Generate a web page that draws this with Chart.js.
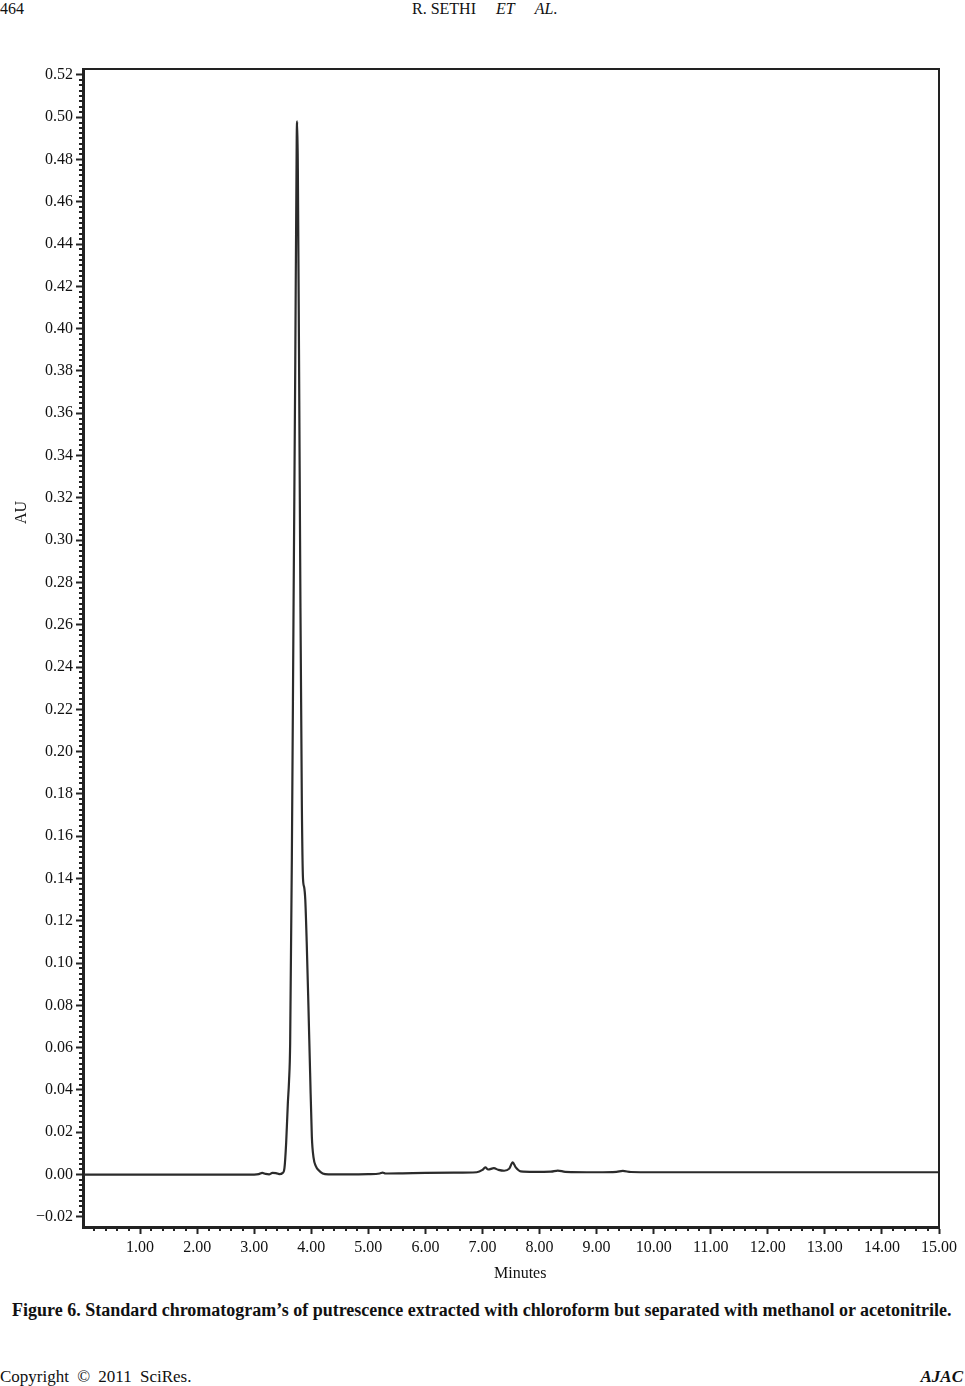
<!DOCTYPE html>
<html><head><meta charset="utf-8">
<script src="https://cdn.jsdelivr.net/npm/chart.js@4.4.1/dist/chart.umd.min.js"></script>
<style>
html,body{margin:0;padding:0;background:#fff;}
body{width:965px;height:1386px;position:relative;overflow:hidden;font-family:"Liberation Serif","Times New Roman",serif;color:#111;}
#wrap{position:absolute;left:0;top:52px;width:965px;height:1235px;}
.t{position:absolute;white-space:nowrap;}
</style></head><body>
<div class="t" style="left:0;top:0;font-size:16px;line-height:18px;">464</div>
<div class="t" style="left:412px;top:0;font-size:16px;line-height:18px;">R. SETHI&nbsp;&nbsp;&nbsp;&nbsp;&nbsp;<i>ET</i>&nbsp;&nbsp;&nbsp;&nbsp;&nbsp;<i>AL</i>.</div>
<div id="wrap"><canvas id="c"></canvas></div>
<div class="t" style="left:11px;top:500px;font-size:16px;line-height:19px;transform-origin:0 0;transform:translate(0,24px) rotate(-90deg);">AU</div>
<div class="t" style="left:494px;top:1264px;font-size:16px;line-height:18px;">Minutes</div>
<div class="t" style="left:12px;top:1300px;font-size:18px;line-height:20px;font-weight:bold;">Figure 6. Standard chromatogram’s of putrescence extracted with chloroform but separated with methanol or acetonitrile.</div>
<div class="t" style="left:0;top:1367px;font-size:17px;line-height:19px;word-spacing:4px;">Copyright © 2011 SciRes.</div>
<div class="t" style="right:2px;top:1367px;font-size:17px;line-height:19px;font-weight:bold;font-style:italic;">AJAC</div>
<script>
// Retention time (minutes)
const timeMin = [0, 0.5, 1.0, 1.5, 2.0, 2.5, 3.0, 3.08, 3.14, 3.2, 3.26, 3.32, 3.38, 3.44, 3.5, 3.53, 3.56, 3.59, 3.61, 3.63, 3.66, 3.69, 3.72, 3.745, 3.755, 3.765, 3.785, 3.81, 3.835, 3.855, 3.875, 3.895, 3.92, 3.95, 3.98, 4.01, 4.04, 4.08, 4.13, 4.2, 4.3, 4.6, 5.0, 5.2, 5.25, 5.3, 5.6, 6.0, 6.5, 6.9, 7.0, 7.05, 7.1, 7.2, 7.28, 7.38, 7.47, 7.53, 7.58, 7.67, 7.9, 8.2, 8.32, 8.45, 9.0, 9.35, 9.46, 9.6, 10, 12, 13, 15];
// Absorbance (AU)
const absorbanceAU = [0, 0, 0, 0, 0, 0, 0, 0.0002, 0.0008, 0.0003, 0.0001, 0.0008, 0.0007, 0.0002, 0.0008, 0.003, 0.015, 0.034, 0.044, 0.062, 0.15, 0.27, 0.385, 0.49, 0.498, 0.475, 0.39, 0.27, 0.175, 0.14, 0.136, 0.13, 0.11, 0.08, 0.048, 0.018, 0.008, 0.004, 0.002, 0.0005, 0.0001, 0.0001, 0.0002, 0.0005, 0.0009, 0.0005, 0.0006, 0.0008, 0.0009, 0.0011, 0.0022, 0.0034, 0.0024, 0.003, 0.0022, 0.0018, 0.0028, 0.0058, 0.0035, 0.0015, 0.0013, 0.0014, 0.0019, 0.0013, 0.0011, 0.0013, 0.0017, 0.0012, 0.0011, 0.0011, 0.0011, 0.0011];
// Axis settings
const xRange = [0, 15];
const yRange = [-0.0248, 0.5228];
const xMinorStep = 0.2, xMajorStep = 1;
const yMinorStep = 0.0025, yMajorStep = 0.02;

const points = timeMin.map((t, i) => ({x: t, y: absorbanceAU[i]}));
const isMult = (v, s) => Math.abs(v - Math.round(v / s) * s) < 1e-7;
const fmtY = v => { const r = Math.round(v * 100) / 100; if (Math.abs(r) < 1e-9) return '0.00'; return r < 0 ? '\u2212' + Math.abs(r).toFixed(2) : r.toFixed(2); };

const framePlugin = {
  id: 'frame',
  afterDraw(chart) {
    const {ctx, chartArea: a, scales: {x, y}} = chart;
    ctx.save();
    ctx.strokeStyle = '#222';
    ctx.lineWidth = 2;
    ctx.strokeRect(a.left, a.top, a.right - a.left, a.bottom - a.top);
    ctx.beginPath();
    x.ticks.forEach(t => {
      if (isMult(t.value, xMinorStep) && !isMult(t.value, xMajorStep)) {
        const px = Math.round(x.getPixelForValue(t.value));
        ctx.moveTo(px, a.bottom); ctx.lineTo(px, a.bottom + 4);
      }
    });
    y.ticks.forEach(t => {
      if (isMult(t.value, yMinorStep) && !isMult(t.value, yMajorStep)) {
        const py = Math.round(y.getPixelForValue(t.value));
        ctx.moveTo(a.left, py); ctx.lineTo(a.left - 4, py);
      }
    });
    ctx.stroke();
    ctx.restore();
  }
};

new Chart(document.getElementById('c'), {
  type: 'line',
  data: { datasets: [{
    data: points,
    borderColor: '#2b2b2b',
    borderWidth: 2.2,
    pointRadius: 0,
    cubicInterpolationMode: 'monotone',
    fill: false
  }]},
  options: {
    responsive: true,
    maintainAspectRatio: false,
    animation: false,
    layout: { padding: { left: 7, top: 17, right: 26, bottom: 0 } },
    plugins: { legend: { display: false }, tooltip: { enabled: false } },
    scales: {
      x: {
        type: 'linear', position: 'bottom',
        min: xRange[0], max: xRange[1],
        afterFit: s => { s.height = 60; },
        border: { color: '#222', width: 3 },
        grid: {
          drawOnChartArea: false, tickLength: 7, tickWidth: 2,
          tickColor: c => (c.tick && isMult(c.tick.value, xMajorStep) && c.tick.value > 0) ? '#222' : 'rgba(0,0,0,0)'
        },
        ticks: {
          stepSize: xMinorStep, autoSkip: false, maxRotation: 0, minRotation: 0,
          color: '#111', padding: 4,
          font: { family: 'Liberation Serif', size: 16 },
          callback: v => (isMult(v, xMajorStep) && v > 0) ? Number(v).toFixed(2) : ''
        }
      },
      y: {
        type: 'linear',
        min: yRange[0], max: yRange[1],
        afterFit: s => { s.width = 76; },
        border: { color: '#222', width: 3 },
        grid: {
          drawOnChartArea: false, tickLength: 7, tickWidth: 2,
          tickColor: c => (c.tick && isMult(c.tick.value, yMajorStep)) ? '#222' : 'rgba(0,0,0,0)'
        },
        ticks: {
          stepSize: yMinorStep, autoSkip: false,
          color: '#111', padding: 3,
          font: { family: 'Liberation Serif', size: 16 },
          callback: v => isMult(v, yMajorStep) ? fmtY(v) : ''
        }
      }
    }
  },
  plugins: [framePlugin]
});
</script>
</body></html>
